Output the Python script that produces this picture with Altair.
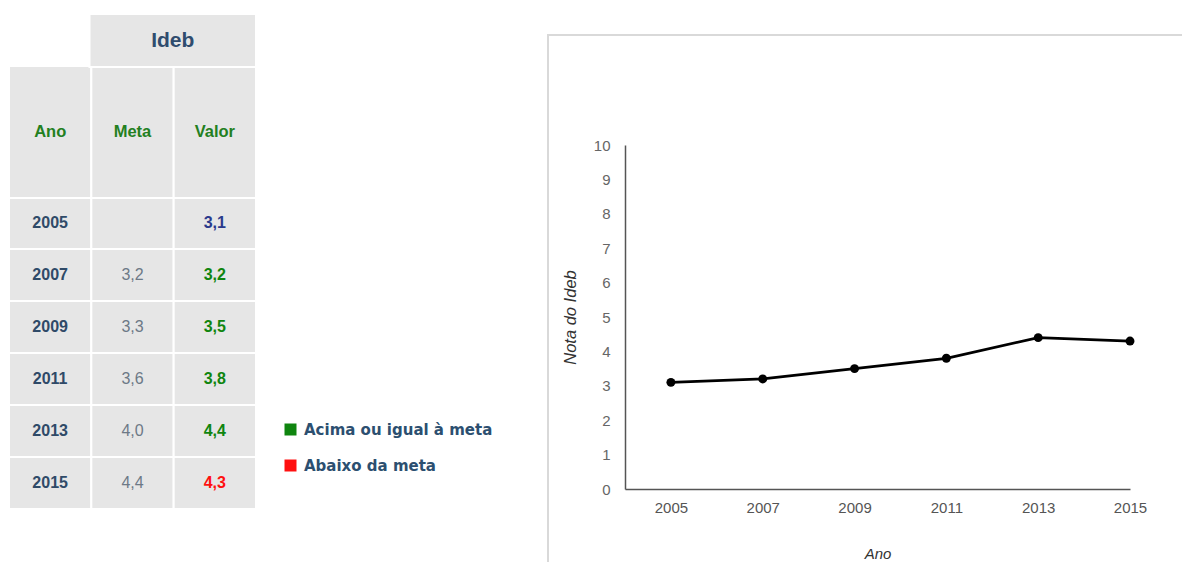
import altair as alt
import pandas as pd

# ---- data ----
anos = [2005, 2007, 2009, 2011, 2013, 2015]
metas = [None, 3.2, 3.3, 3.6, 4.0, 4.4]
valores = [3.1, 3.2, 3.5, 3.8, 4.4, 4.3]
colunas = ["Ano", "Meta", "Valor"]
titulo_tabela = "Ideb"
status_nomes = ["Acima ou igual à meta", "Abaixo da meta", "Sem meta"]
status_cores = ["#0f850f", "#ff1010", "#2a3a8c"]
legenda_valores = ["Acima ou igual à meta", "Abaixo da meta"]
y_ticks = list(range(0, 11))


def fmt(v):
    return "" if v is None else f"{v:.1f}".replace(".", ",")


# ---- tables for the library ----
linhas = [str(a) for a in anos]
cells = []
for a, m, v in zip(anos, metas, valores):
    if m is None:
        st = status_nomes[2]
    elif v >= m:
        st = status_nomes[0]
    else:
        st = status_nomes[1]
    cells.append({"linha": str(a), "coluna": "Ano", "texto": str(a), "status": st})
    cells.append({"linha": str(a), "coluna": "Meta", "texto": fmt(m), "status": st})
    cells.append({"linha": str(a), "coluna": "Valor", "texto": fmt(v), "status": st})
df_cells = pd.DataFrame(cells)
df_head = pd.DataFrame({"coluna": colunas, "linha": ["cab"] * len(colunas)})
df_ideb = pd.DataFrame({"grupo": [titulo_tabela], "linha": ["ideb"]})
df_line = pd.DataFrame({"ano": anos, "valor": valores})

CELL_BG = "#e6e6e6"
TFONT = "Liberation Sans Narrow, Arial Narrow, Liberation Sans, Arial"

col_scale = alt.Scale(domain=colunas, range=[9, 256], paddingInner=0, paddingOuter=0)
row_scale = alt.Scale(domain=linhas, range=[197, 509], paddingInner=0, paddingOuter=0)
head_row_scale = alt.Scale(domain=["cab"], range=[66, 198], paddingInner=0, paddingOuter=0)
ideb_x_scale = alt.Scale(domain=[titulo_tabela], range=[89.5, 256], paddingInner=0, paddingOuter=0)
ideb_y_scale = alt.Scale(domain=["ideb"], range=[14, 67], paddingInner=0, paddingOuter=0)

# frame around the line chart
frame = alt.Chart(pd.DataFrame({"k": [0]})).mark_rect(
    fillOpacity=0, stroke="#d9d9d9", strokeWidth=2
).encode(x=alt.value(548), x2=alt.value(1200), y=alt.value(35), y2=alt.value(600))

body_rect = alt.Chart(df_cells).mark_rect(fill=CELL_BG, stroke="white", strokeWidth=2).encode(
    x=alt.X("coluna:N", scale=col_scale, axis=None),
    y=alt.Y("linha:N", scale=row_scale, axis=None),
)
head_rect = alt.Chart(df_head).mark_rect(fill=CELL_BG, stroke="white", strokeWidth=2).encode(
    x=alt.X("coluna:N", scale=col_scale, axis=None),
    y=alt.Y("linha:N", scale=head_row_scale, axis=None),
)
ideb_rect = alt.Chart(df_ideb).mark_rect(fill=CELL_BG, stroke="white", strokeWidth=2).encode(
    x=alt.X("grupo:N", scale=ideb_x_scale, axis=None),
    y=alt.Y("linha:N", scale=ideb_y_scale, axis=None),
)

ideb_text = alt.Chart(df_ideb).mark_text(
    font=TFONT, fontSize=21, fontWeight="bold", color="#2f4c6e", baseline="middle"
).encode(
    x=alt.X("grupo:N", scale=ideb_x_scale, axis=None),
    y=alt.Y("linha:N", scale=ideb_y_scale, axis=None),
    text="grupo:N",
)
head_text = alt.Chart(df_head).mark_text(
    font=TFONT, fontSize=16.5, fontWeight="bold", color="#23801f", baseline="middle"
).encode(
    x=alt.X("coluna:N", scale=col_scale, axis=None),
    y=alt.Y("linha:N", scale=head_row_scale, axis=None),
    text="coluna:N",
)
ano_text = alt.Chart(df_cells).transform_filter(alt.datum.coluna == "Ano").mark_text(
    font=TFONT, fontSize=16, fontWeight="bold", color="#2f4a68", baseline="middle"
).encode(
    x=alt.X("coluna:N", scale=col_scale, axis=None),
    y=alt.Y("linha:N", scale=row_scale, axis=None),
    text="texto:N",
)
meta_text = alt.Chart(df_cells).transform_filter(alt.datum.coluna == "Meta").mark_text(
    font=TFONT, fontSize=16, fontWeight="normal", color="#6d7986", baseline="middle"
).encode(
    x=alt.X("coluna:N", scale=col_scale, axis=None),
    y=alt.Y("linha:N", scale=row_scale, axis=None),
    text="texto:N",
)
valor_text = alt.Chart(df_cells).transform_filter(alt.datum.coluna == "Valor").mark_text(
    font=TFONT, fontSize=16, fontWeight="bold", baseline="middle"
).encode(
    x=alt.X("coluna:N", scale=col_scale, axis=None),
    y=alt.Y("linha:N", scale=row_scale, axis=None),
    text="texto:N",
    color=alt.Color(
        "status:N",
        scale=alt.Scale(domain=status_nomes, range=status_cores),
        legend=alt.Legend(
            values=legenda_valores,
            orient="none",
            legendX=283,
            legendY=422,
            title=None,
            symbolType="square",
            symbolSize=144,
            symbolStrokeWidth=0,
            symbolOpacity=1,
            labelFont="DejaVu Sans",
            labelFontWeight="bold",
            labelFontSize=15,
            labelColor="#2c4f70",
            labelOffset=6,
            labelLimit=0,
            rowPadding=20,
            padding=0,
        ),
    ),
)

line = alt.Chart(df_line).mark_line(
    color="black",
    strokeWidth=2.8,
    point=alt.OverlayMarkDef(filled=True, color="black", size=80, opacity=1),
).encode(
    x=alt.X(
        "ano:Q",
        scale=alt.Scale(domain=[2004, 2015], range=[625, 1130], nice=False, zero=False),
        axis=alt.Axis(
            values=anos, format="d", title="Ano", offset=-73,
            ticks=False, tickSize=0, grid=False, labelFlush=False, labelOverlap=False,
            domainColor="#555555", domainWidth=1.5,
            labelFont="Liberation Sans", labelFontSize=15, labelColor="#555555", labelPadding=11,
            titleFont="Liberation Sans", titleFontSize=15, titleFontStyle="italic",
            titleFontWeight="normal", titleColor="#333333", titlePadding=31,
        ),
    ),
    y=alt.Y(
        "valor:Q",
        scale=alt.Scale(domain=[0, 10], range=[489, 145], nice=False, zero=False),
        axis=alt.Axis(
            values=y_ticks, title="Nota do Ideb", offset=-625,
            ticks=False, tickSize=0, grid=False, labelFlush=False, labelOverlap=False,
            domainColor="#555555", domainWidth=1.5,
            labelFont="Liberation Sans", labelFontSize=15, labelColor="#666666", labelPadding=15,
            titleFont="Liberation Sans", titleFontSize=16.5, titleFontStyle="italic",
            titleFontWeight="normal", titleColor="#333333", titlePadding=15,
        ),
    ),
)

chart = alt.layer(
    frame, body_rect, head_rect, ideb_rect, ideb_text, head_text,
    ano_text, meta_text, valor_text, line,
).resolve_scale(
    x="independent", y="independent"
).properties(
    width=1182, height=562, autosize=alt.AutoSizeParams(type="none"), padding=0,
    background="white",
).configure_view(stroke=None)

chart.save("out.html", embed_options={"renderer": "svg", "actions": False})
